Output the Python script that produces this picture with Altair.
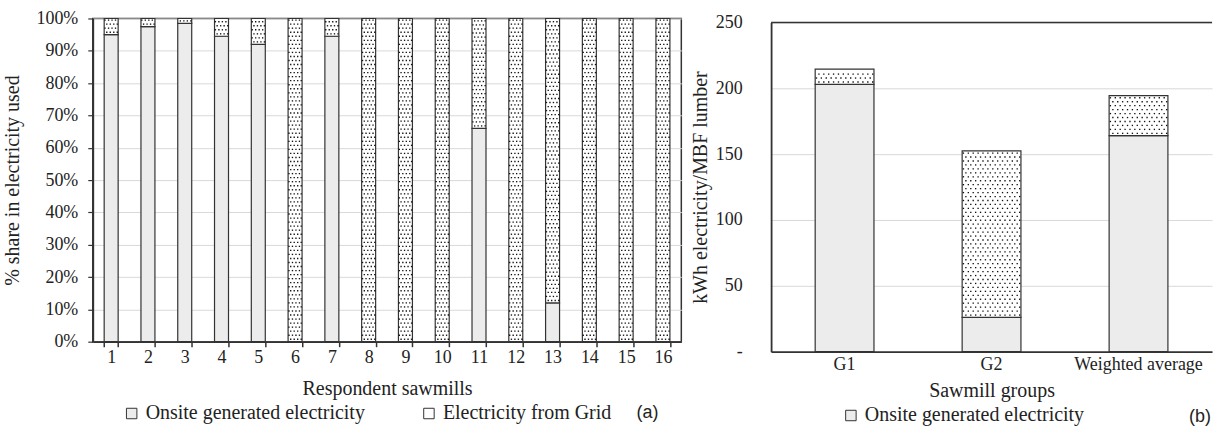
import altair as alt
import pandas as pd

# ---------------- data ----------------
mills = [str(i) for i in range(1, 17)]
onsite_share = [95, 97.5, 98.5, 94.5, 92, 0, 94.5, 0, 0, 0, 66, 0, 12, 0, 0, 0]

groups = ["G1", "G2", "Weighted average"]
onsite_kwh = [203, 26, 164]
grid_kwh = [11.5, 126.5, 30.5]

sources = ["Onsite generated electricity", "Electricity from Grid"]
fills = ["#ececec", "#ffffff"]
ticks_a = [0, 0.1, 0.2, 0.3, 0.4, 0.5, 0.6, 0.7, 0.8, 0.9, 1.0]
ticks_b = [0, 50, 100, 150, 200, 250]

SERIF = "Liberation Serif"
SANS = "Liberation Sans"
DARK = "#333333"

# ---------------- tables ----------------
bars_a = []
dots_a = []
for m, o in zip(mills, onsite_share):
    lo = o / 100.0
    if o > 0:
        bars_a.append({"mill": m, "source": sources[0], "lo": 0.0, "hi": lo})
    if o < 100:
        bars_a.append({"mill": m, "source": sources[1], "lo": lo, "hi": 1.0})
        step = 0.0125
        k = 0
        while lo + step * (k + 0.6) < 1.0 - step * 0.3:
            yv = lo + step * (k + 0.6)
            cols = [1, 3, 5, 7] if k % 2 == 0 else [0, 2, 4, 6]
            for c in cols:
                dots_a.append({"mill": m, "col": c, "yv": yv})
            k += 1
bars_a = pd.DataFrame(bars_a)
dots_a = pd.DataFrame(dots_a)

bars_b = []
dots_b = []
for g, o, gr in zip(groups, onsite_kwh, grid_kwh):
    bars_b.append({"grp": g, "source": sources[0], "lo": 0.0, "hi": o})
    bars_b.append({"grp": g, "source": sources[1], "lo": o, "hi": o + gr})
    step = 3.0
    k = 0
    while o + step * (k + 0.6) < o + gr - step * 0.3:
        yv = o + step * (k + 0.6)
        cols = list(range(1, 24, 2)) if k % 2 == 0 else list(range(0, 24, 2))
        for c in cols:
            dots_b.append({"grp": g, "col": c, "yv": yv})
        k += 1
bars_b = pd.DataFrame(bars_b)
dots_b = pd.DataFrame(dots_b)

color_scale = alt.Scale(domain=sources, range=fills)

# ---------------- chart (a) ----------------
xa_scale = alt.Scale(paddingInner=0.62, paddingOuter=0.31)
ya_scale = alt.Scale(domain=[0, 1], nice=False)
xa_axis = alt.Axis(labelAngle=0, labelFontSize=18, tickBand="extent", tickSize=5,
                   labelPadding=2, domainWidth=1.8, tickWidth=1.5,
                   titleFontSize=20, titlePadding=12, grid=False)
ya_axis = alt.Axis(values=ticks_a, format=".0%", labelFontSize=18, tickSize=5,
                   labelPadding=10, domainWidth=1.8, tickWidth=1.2,
                   titleFontSize=20, titlePadding=13, grid=True)

xa = alt.X("mill:N", sort=mills, scale=xa_scale, axis=xa_axis, title="Respondent sawmills")
ya = alt.Y("lo:Q", scale=ya_scale, axis=ya_axis, title="% share in electricity used")

bars_layer_a = alt.Chart(bars_a).mark_bar(stroke=DARK, strokeWidth=1.2).encode(
    x=xa,
    y=ya,
    y2="hi:Q",
    color=alt.Color("source:N", scale=color_scale, legend=alt.Legend(
        orient="none", legendX=29, legendY=386, direction="horizontal", columns=2,
        title=None, symbolType="square", symbolSize=110, symbolStrokeColor=DARK,
        symbolStrokeWidth=1, labelFont=SERIF, labelFontSize=20, labelColor="#222",
        labelOffset=4, labelLimit=400, columnPadding=54, padding=0)),
)

dots_layer_a = alt.Chart(dots_a).transform_calculate(
    dx="(datum.col - 3.5) * 1.75"
).mark_point(shape="square", filled=True, size=1.8, color="#111", opacity=1,
             xOffset={"expr": "datum.dx"}).encode(
    x=xa,
    y=alt.Y("yv:Q", scale=ya_scale, axis=ya_axis, title="% share in electricity used"),
)

label_a = alt.Chart(pd.DataFrame({"t": ["(a)"]})).mark_text(
    font=SANS, fontSize=18, color="#222", align="center", baseline="middle"
).encode(text="t:N", x=alt.value(556), y=alt.value(396))

chart_a = alt.layer(bars_layer_a, dots_layer_a, label_a).properties(
    width=590, height=324,
    view=alt.ViewBackground(stroke=DARK, strokeWidth=1.5),
)

# ---------------- chart (b) ----------------
xb_scale = alt.Scale(paddingInner=0.6, paddingOuter=0.3)
yb_scale = alt.Scale(domain=[0, 250], nice=False, range=[334, 4])
xb_axis = alt.Axis(labelAngle=0, labelFontSize=18, ticks=False, labelPadding=4,
                   domainWidth=1.8, titleFontSize=20, titlePadding=7, grid=False)
yb_axis = alt.Axis(values=ticks_b, labelFontSize=18, ticks=False, labelPadding=29,
                   labelExpr="datum.value == 0 ? '-\u00a0\u00a0' : datum.label",
                   domainWidth=1.8, titleFontSize=20, titlePadding=5, grid=True)

xb = alt.X("grp:N", sort=groups, scale=xb_scale, axis=xb_axis, title="Sawmill groups")
yb_title = "kWh electricity/MBF lumber"

bars_layer_b = alt.Chart(bars_b).mark_bar(stroke=DARK, strokeWidth=1.2).encode(
    x=xb,
    y=alt.Y("lo:Q", scale=yb_scale, axis=yb_axis, title=yb_title),
    y2="hi:Q",
    color=alt.Color("source:N", scale=color_scale, legend=alt.Legend(
        orient="none", legendX=70, legendY=388, direction="horizontal",
        values=[sources[0]], title=None, symbolType="square", symbolSize=110,
        symbolStrokeColor=DARK, symbolStrokeWidth=1, labelFont=SERIF,
        labelFontSize=20, labelColor="#222", labelOffset=4, labelLimit=400, padding=0)),
)

dots_layer_b = alt.Chart(dots_b).transform_calculate(
    dx="(datum.col - 11.5) * 2.45"
).mark_point(shape="square", filled=True, size=1.8, color="#111", opacity=1,
             xOffset={"expr": "datum.dx"}).encode(
    x=xb,
    y=alt.Y("yv:Q", scale=yb_scale, axis=yb_axis, title=yb_title),
)

top_rule_b = alt.Chart(pd.DataFrame({"v": [250]})).mark_rule(color=DARK, strokeWidth=1.5).encode(
    y=alt.Y("v:Q", scale=yb_scale, axis=yb_axis, title=yb_title),
)

label_b = alt.Chart(pd.DataFrame({"t": ["(b)"]})).mark_text(
    font=SANS, fontSize=18, color="#222", align="center", baseline="middle"
).encode(text="t:N", x=alt.value(430), y=alt.value(400))

chart_b = alt.layer(bars_layer_b, dots_layer_b, top_rule_b, label_b).properties(
    width=442, height=334,
    view=alt.ViewBackground(strokeOpacity=0),
)

chart = alt.hconcat(chart_a, chart_b, spacing=90, bounds="flush").resolve_scale(
    color="independent", x="independent", y="independent"
).resolve_legend(color="independent").properties(
    padding={"left": 2, "top": 8, "right": 0, "bottom": 0},
    background="white",
).configure_axis(
    labelFont=SERIF, titleFont=SERIF, labelColor="#222", titleColor="#222",
    titleFontWeight="normal", domainColor=DARK, tickColor=DARK, gridColor="#d9d9d9",
    gridWidth=1,
)

chart.save("out.html", embed_options={"renderer": "svg", "actions": False})
